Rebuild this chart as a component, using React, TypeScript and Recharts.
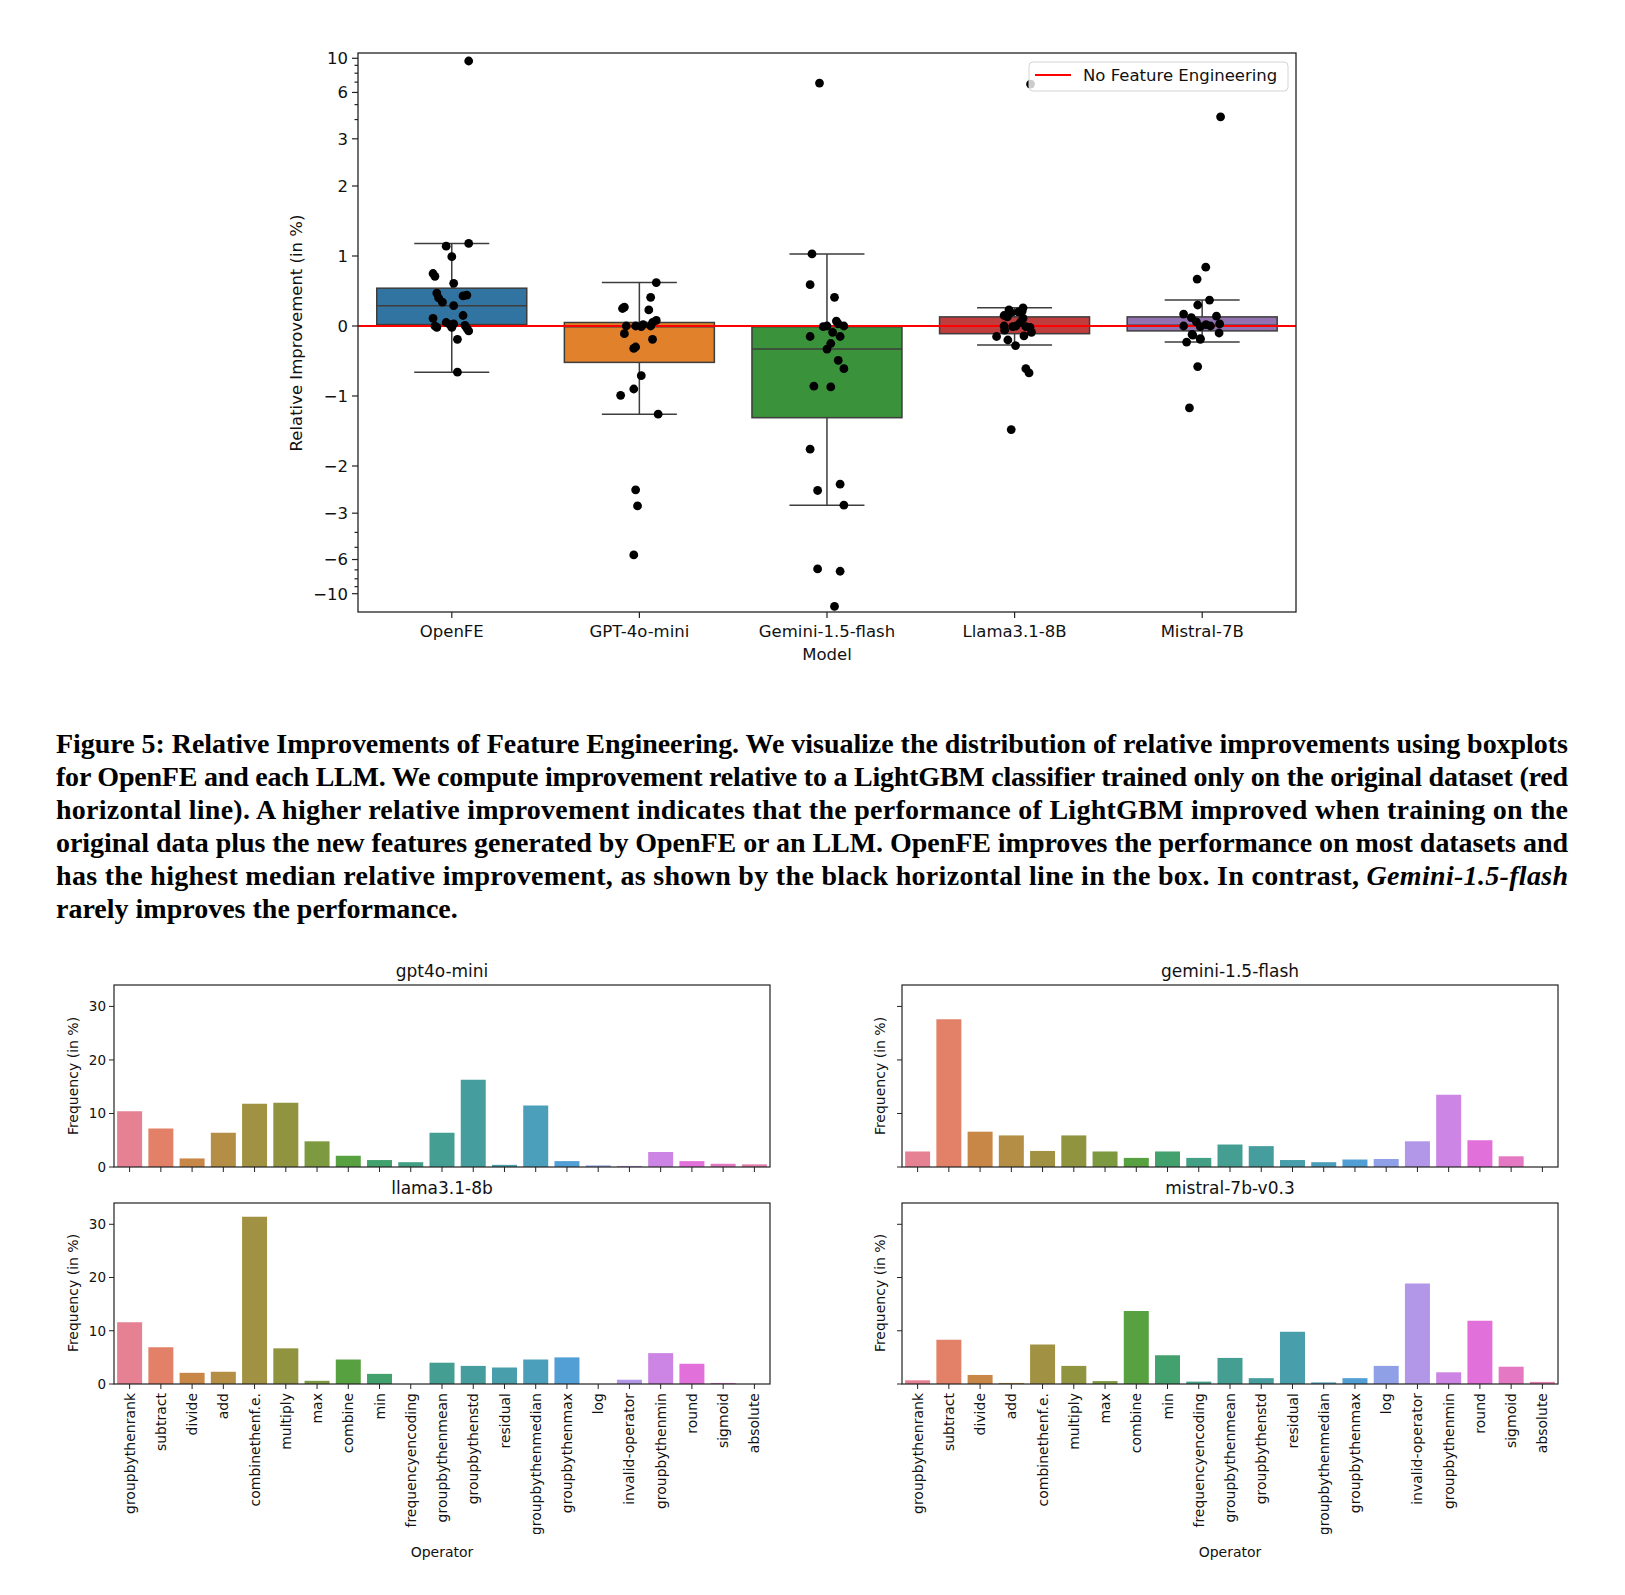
import React from 'react';
import { ComposedChart, BarChart, Bar, Line, Scatter, XAxis, YAxis, Cell } from 'recharts';

// ---------- top figure: relative improvement per model ----------
const models = ['OpenFE', 'GPT-4o-mini', 'Gemini-1.5-flash', 'Llama3.1-8B', 'Mistral-7B'];
const boxColors = ['#3274a1', '#e1812c', '#3a923a', '#c03d3e', '#9372b2'];

const q1 = [0.02, -0.52, -1.31, -0.11, -0.07];
const medians = [0.29, -0.01, -0.33, 0.0, 0.01];
const q3 = [0.54, 0.05, -0.01, 0.13, 0.13];
const whiskerLow = [-0.66, -1.26, -2.66, -0.27, -0.23];
const whiskerHigh = [1.18, 0.62, 1.03, 0.26, 0.37];

// strip points (value) and their horizontal jitter (in category units)
const openfePoints = [9.6, 1.14, 1.18, 0.99, 0.75, 0.71, 0.61, 0.47, 0.4, 0.34, 0.43, 0.44, 0.29, 0.15, 0.11, 0.0, -0.02, 0.05, 0.02, -0.02, 0.03, 0.01, -0.03, -0.07, -0.19, -0.66];
const openfeJitter = [0.09, -0.03, 0.09, 0.0, -0.1, -0.09, 0.01, -0.08, -0.07, -0.05, 0.06, 0.08, 0.01, 0.06, -0.1, -0.09, -0.08, -0.03, -0.01, 0.0, 0.01, 0.07, 0.08, 0.09, 0.03, 0.03];
const gptPoints = [0.62, 0.41, 0.25, 0.27, 0.23, 0.08, 0.05, 0.02, 0.0, 0.0, -0.01, 0.0, -0.11, -0.19, -0.32, -0.3, -0.71, -0.9, -0.99, -1.26, -2.34, -2.69, -5.6];
const gptJitter = [0.09, 0.06, -0.09, -0.08, 0.05, 0.09, 0.07, 0.02, -0.07, -0.02, 0.01, 0.06, -0.08, 0.07, -0.03, -0.02, 0.01, -0.03, -0.1, 0.1, -0.02, -0.01, -0.03];
const geminiPoints = [6.9, 1.03, 0.59, 0.41, 0.07, 0.0, -0.01, 0.0, 0.03, -0.15, -0.09, -0.15, -0.25, -0.33, -0.49, -0.61, -0.86, -0.87, -1.76, -2.26, -2.35, -2.66, -6.9, -7.15, -12.1];
const geminiJitter = [-0.04, -0.08, -0.09, 0.04, 0.05, 0.0, -0.02, 0.09, 0.06, -0.09, 0.03, 0.07, 0.02, 0.0, 0.06, 0.09, -0.07, 0.02, -0.09, 0.07, -0.05, 0.09, -0.05, 0.07, 0.04];
const llamaPoints = [6.8, 0.26, 0.23, 0.2, 0.15, 0.13, 0.11, 0.0, 0.0, -0.01, -0.02, -0.06, -0.09, -0.15, -0.14, -0.2, -0.28, -0.61, -0.67, -1.48, 0.19, 0.21, 0.05, -0.01];
const llamaJitter = [0.085, 0.045, -0.03, 0.02, -0.056, -0.039, 0.045, -0.056, 0.007, 0.06, 0.082, -0.053, 0.09, -0.096, 0.05, -0.036, 0.005, 0.06, 0.077, -0.018, -0.02, 0.04, 0.03, -0.01];
const mistralPoints = [4.17, 0.84, 0.67, 0.37, 0.3, 0.17, 0.12, 0.14, 0.06, 0.0, -0.01, 0.0, 0.03, -0.12, -0.1, -0.18, -0.23, -0.58, -1.17, -0.13, -0.19, 0.02];
const mistralJitter = [0.098, 0.019, -0.027, 0.039, -0.024, -0.099, -0.058, 0.076, -0.031, -0.099, -0.01, 0.044, 0.093, -0.054, 0.09, -0.01, -0.083, -0.024, -0.068, -0.05, -0.01, 0.02];

const majorTicks = [-10, -6, -3, -2, -1, 0, 1, 2, 3, 6, 10];
const minorTicks = [-9, -8, -7, -5, -4, 4, 5, 7, 8, 9];
const baseline = 0;

// ---------- bottom figure: operator frequencies ----------
const operators = ['groupbythenrank', 'subtract', 'divide', 'add', 'combinethenf.e.', 'multiply', 'max', 'combine', 'min', 'frequencyencoding', 'groupbythenmean', 'groupbythenstd', 'residual', 'groupbythenmedian', 'groupbythenmax', 'log', 'invalid-operator', 'groupbythenmin', 'round', 'sigmoid', 'absolute'];
const gpt4oMini = [10.4, 7.2, 1.6, 6.4, 11.8, 12.0, 4.8, 2.1, 1.3, 0.9, 6.4, 16.3, 0.4, 11.5, 1.1, 0.3, 0.2, 2.8, 1.1, 0.6, 0.5];
const gemini15Flash = [2.9, 27.6, 6.6, 5.9, 3.0, 5.9, 2.9, 1.7, 2.9, 1.7, 4.2, 3.9, 1.3, 0.9, 1.4, 1.5, 4.8, 13.5, 5.0, 2.0, 0];
const llama318b = [11.6, 6.9, 2.1, 2.3, 31.4, 6.7, 0.6, 4.6, 1.9, 0, 4.0, 3.4, 3.1, 4.6, 5.0, 0, 0.8, 5.8, 3.8, 0.2, 0];
const mistral7b = [0.7, 8.3, 1.7, 0.2, 7.4, 3.4, 0.55, 13.7, 5.4, 0.45, 4.9, 1.1, 9.8, 0.3, 1.1, 3.4, 18.9, 2.2, 11.9, 3.25, 0.4];
const freqTicks = [0, 10, 20, 30];

const captionLines = [
  'Figure 5: Relative Improvements of Feature Engineering. We visualize the distribution of relative improvements using boxplots',
  'for OpenFE and each LLM. We compute improvement relative to a LightGBM classifier trained only on the original dataset (red',
  'horizontal line). A higher relative improvement indicates that the performance of LightGBM improved when training on the',
  'original data plus the new features generated by OpenFE or an LLM. OpenFE improves the performance on most datasets and',
  'has the highest median relative improvement, as shown by the black horizontal line in the box. In contrast, ',
  'rarely improves the performance.',
];

// symlog-like transform of the y axis (linear up to 2.5, log beyond)
const LIN = 2.5;
const LOGK = 2.2;
const symlog = (v: number) => {
  const a = Math.abs(v);
  if (a <= LIN) return v;
  return Math.sign(v) * (LIN + LOGK * Math.log10(a / LIN));
};
const fmtTick = (v: number) => (v < 0 ? '\u2212' + Math.abs(v) : String(v));

// seaborn husl palette + desaturate(0.75)
const hm = [[3.2406, -1.5372, -0.4986], [-0.9689, 1.8758, 0.0415], [0.0557, -0.204, 1.057]];
function maxChroma(L: number, H: number) {
  const hrad = (H / 360) * 2 * Math.PI;
  const sinH = Math.sin(hrad), cosH = Math.cos(hrad);
  const sub1 = Math.pow(L + 16, 3) / 1560896;
  const sub2 = sub1 > 0.008856 ? sub1 : L / 903.3;
  let result = Infinity;
  for (const [m1, m2, m3] of hm) {
    const top = (0.99915 * m1 + 1.05122 * m2 + 1.1446 * m3) * sub2;
    const rb = 0.8633 * m3 - 0.17266 * m2;
    const lb = 0.12949 * m3 - 0.38848 * m1;
    const bottom = (rb * sinH + lb * cosH) * sub2;
    for (const t of [0, 1]) {
      const C = (L * (top - 1.05122 * t)) / (bottom + 0.17266 * sinH * t);
      if (C > 0 && C < result) result = C;
    }
  }
  return result;
}
function huslToRgb(H: number, S: number, L: number) {
  const C = (maxChroma(L, H) / 100) * S;
  const hr = (H / 360) * 2 * Math.PI;
  const U = Math.cos(hr) * C, V = Math.sin(hr) * C;
  const t = (L + 16) / 116;
  const varY = Math.pow(t, 3) > 0.008856 ? Math.pow(t, 3) : (116 * t - 16) / 903.3;
  const varU = U / (13 * L) + 0.19784;
  const varV = V / (13 * L) + 0.46834;
  const Y = varY;
  const X = -(9 * Y * varU) / ((varU - 4) * varV - varU * varV);
  const Z = (9 * Y - 15 * varV * Y - varV * X) / (3 * varV);
  return hm.map((r) => {
    const c = r[0] * X + r[1] * Y + r[2] * Z;
    const g = c <= 0.0031308 ? 12.92 * c : 1.055 * Math.pow(c, 1 / 2.4) - 0.055;
    return Math.min(1, Math.max(0, g));
  });
}
function desaturate([r, g, b]: number[], prop: number) {
  const mx = Math.max(r, g, b), mn = Math.min(r, g, b);
  const l = (mx + mn) / 2;
  if (mx === mn) return [r, g, b];
  let s = l <= 0.5 ? (mx - mn) / (mx + mn) : (mx - mn) / (2 - mx - mn);
  const rc = (mx - r) / (mx - mn), gc = (mx - g) / (mx - mn), bc = (mx - b) / (mx - mn);
  let h = r === mx ? bc - gc : g === mx ? 2 + rc - bc : 4 + gc - rc;
  h = (((h / 6) % 1) + 1) % 1;
  s *= prop;
  const m2 = l <= 0.5 ? l * (1 + s) : l + s - l * s;
  const m1 = 2 * l - m2;
  const v = (hue: number) => {
    hue = ((hue % 1) + 1) % 1;
    if (hue < 1 / 6) return m1 + (m2 - m1) * hue * 6;
    if (hue < 0.5) return m2;
    if (hue < 2 / 3) return m1 + (m2 - m1) * (2 / 3 - hue) * 6;
    return m1;
  };
  return [v(h + 1 / 3), v(h), v(h - 1 / 3)];
}
const toHex = (c: number[]) => '#' + c.map((x) => Math.round(x * 255).toString(16).padStart(2, '0')).join('');
const palette = operators.map((_, i) => {
  const h = ((i / operators.length + 0.01) % 1) * 359;
  return toHex(desaturate(huslToRgb(h, 0.9 * 99, 0.65 * 99), 0.75));
});

const boxData = models.map((m, i) => ({
  model: m,
  box: [symlog(q1[i]), symlog(q3[i])],
  whisker: [symlog(whiskerLow[i]), symlog(whiskerHigh[i])],
  median: symlog(medians[i]),
  color: boxColors[i],
}));
const pointSets = [openfePoints, gptPoints, geminiPoints, llamaPoints, mistralPoints];
const jitterSets = [openfeJitter, gptJitter, geminiJitter, llamaJitter, mistralJitter];
const stripData = pointSets.flatMap((vals, i) => vals.map((v, j) => ({ x: i + jitterSets[i][j], y: symlog(v) })));
const zeroLine = [{ x: -0.5, y: baseline }, { x: models.length - 0.5, y: baseline }];
const topYTicks = [...majorTicks, ...minorTicks].map(symlog);

const EDGE = '#3d3d3d';
const FONT = 'DejaVu Sans, sans-serif';

const BoxShape = (props: any) => {
  const { x, y, width, height, payload } = props;
  const top = Math.min(y, y + height);
  const h = Math.abs(height);
  const [lo, hi] = payload.box;
  const ym = hi === lo ? top : top + ((hi - payload.median) / (hi - lo)) * h;
  return (
    <g>
      <rect x={x} y={top} width={width} height={h} fill={payload.color} stroke={EDGE} strokeWidth={1.5} />
      <line x1={x} x2={x + width} y1={ym} y2={ym} stroke={EDGE} strokeWidth={1.5} />
    </g>
  );
};

const WhiskerShape = (props: any) => {
  const { x, y, width, height } = props;
  const top = Math.min(y, y + height);
  const bottom = Math.max(y, y + height);
  const cx = x + width / 2;
  const cap = width / 4;
  return (
    <g stroke={EDGE} strokeWidth={1.5}>
      <line x1={cx} x2={cx} y1={top} y2={bottom} />
      <line x1={cx - cap} x2={cx + cap} y1={top} y2={top} />
      <line x1={cx - cap} x2={cx + cap} y1={bottom} y2={bottom} />
    </g>
  );
};

const StripDot = (props: any) => <circle cx={props.cx} cy={props.cy} r={4.4} fill="#000" />;

const TopYTick = (props: any) => {
  const { x, y, payload } = props;
  const idx = majorTicks.findIndex((v) => Math.abs(symlog(v) - payload.value) < 1e-9);
  const major = idx >= 0;
  return (
    <g>
      <line x1={x} x2={x - (major ? 6 : 3.5)} y1={y} y2={y} stroke="#222" strokeWidth={1.2} />
      {major && (
        <text x={x - 10} y={y} dy="0.36em" textAnchor="end" fontSize={16.5} fontFamily={FONT} fill="#111">
          {fmtTick(majorTicks[idx])}
        </text>
      )}
    </g>
  );
};

const TopXTick = (props: any) => {
  const { x, y, payload } = props;
  return (
    <g>
      <line x1={x} x2={x} y1={y} y2={y + 6} stroke="#222" strokeWidth={1.2} />
      <text x={x} y={y + 24.5} textAnchor="middle" fontSize={16.5} fontFamily={FONT} fill="#111">
        {payload.value}
      </text>
    </g>
  );
};

const makeXTick = (labels: boolean) => (props: any) => {
  const { x, y, payload } = props;
  return (
    <g>
      <line x1={x} x2={x} y1={y} y2={y + 5} stroke="#222" strokeWidth={1} />
      {labels && (
        <text transform={`translate(${x},${y + 9}) rotate(-90)`} dy="0.36em" textAnchor="end" fontSize={14} fontFamily={FONT} fill="#111">
          {payload.value}
        </text>
      )}
    </g>
  );
};

const makeYTick = (labels: boolean) => (props: any) => {
  const { x, y, payload } = props;
  return (
    <g>
      <line x1={x} x2={x - 5} y1={y} y2={y} stroke="#222" strokeWidth={1} />
      {labels && (
        <text x={x - 8} y={y} dy="0.36em" textAnchor="end" fontSize={13.5} fontFamily={FONT} fill="#111">
          {payload.value}
        </text>
      )}
    </g>
  );
};

interface FreqProps {
  values: number[];
  plotLeft: number;
  plotTop: number;
  plotHeight: number;
  xLabels: boolean;
  yLabels: boolean;
}

const PLOT_W = 656;

const FreqChart: React.FC<FreqProps> = ({ values, plotLeft, plotTop, plotHeight, xLabels, yLabels }) => {
  const xh = xLabels ? 150 : 12;
  const data = operators.map((op, i) => ({ op, v: values[i] }));
  return (
    <div style={{ position: 'absolute', left: plotLeft - 50, top: plotTop - 5 }}>
      <BarChart width={50 + PLOT_W + 5} height={5 + plotHeight + xh} data={data} margin={{ top: 5, right: 5, left: 0, bottom: 0 }} barCategoryGap="10%">
        <XAxis dataKey="op" type="category" interval={0} height={xh} axisLine={false} tickLine={false} tickSize={0} tickMargin={0} tick={makeXTick(xLabels)} />
        <YAxis type="number" domain={[0, 34]} ticks={freqTicks} interval={0} width={50} axisLine={false} tickLine={false} tickSize={0} tickMargin={0} tick={makeYTick(yLabels)} allowDataOverflow />
        <Bar dataKey="v" isAnimationActive={false}>
          {data.map((d, i) => (
            <Cell key={d.op} fill={palette[i]} />
          ))}
        </Bar>
      </BarChart>
    </div>
  );
};

const App: React.FC = () => {
  const frames = [
    [114, 985, PLOT_W, 182],
    [902, 985, PLOT_W, 182],
    [114, 1203, PLOT_W, 181],
    [902, 1203, PLOT_W, 181],
  ];
  const captionBase = [753, 786, 819, 852, 885, 918];
  return (
    <div style={{ position: 'absolute', left: 0, top: 0, width: 1625, height: 1595, background: '#fff', overflow: 'hidden' }}>
      <div style={{ position: 'absolute', left: 250, top: 40 }}>
        <ComposedChart width={1070} height={640} data={boxData} margin={{ top: 13, right: 24, bottom: 38, left: 48 }} barCategoryGap="10%">
          <XAxis xAxisId="cat" dataKey="model" type="category" scale="band" interval={0} height={30} axisLine={false} tickLine={false} tickSize={0} tickMargin={0} tick={TopXTick} />
          <XAxis xAxisId="cat2" dataKey="model" type="category" scale="band" hide />
          <XAxis xAxisId="num" dataKey="x" type="number" domain={[-0.5, models.length - 0.5]} allowDataOverflow hide />
          <YAxis type="number" domain={[-4.086, 3.9]} allowDataOverflow ticks={topYTicks} interval={0} width={60} axisLine={false} tickLine={false} tickSize={0} tickMargin={0} tick={TopYTick} />
          <Bar xAxisId="cat2" dataKey="whisker" shape={WhiskerShape} isAnimationActive={false} />
          <Bar xAxisId="cat" dataKey="box" shape={BoxShape} isAnimationActive={false} />
          <Line xAxisId="num" data={zeroLine} dataKey="y" stroke="#ff0000" strokeWidth={2} dot={false} isAnimationActive={false} />
          <Scatter xAxisId="num" data={stripData} dataKey="y" shape={StripDot} isAnimationActive={false} />
        </ComposedChart>
      </div>

      <FreqChart values={gpt4oMini} plotLeft={114} plotTop={985} plotHeight={182} xLabels={false} yLabels />
      <FreqChart values={gemini15Flash} plotLeft={902} plotTop={985} plotHeight={182} xLabels={false} yLabels={false} />
      <FreqChart values={llama318b} plotLeft={114} plotTop={1203} plotHeight={181} xLabels yLabels />
      <FreqChart values={mistral7b} plotLeft={902} plotTop={1203} plotHeight={181} xLabels yLabels={false} />

      <svg width={1625} height={1595} style={{ position: 'absolute', left: 0, top: 0, pointerEvents: 'none' }}>
        <rect x={358} y={53} width={938} height={559} fill="none" stroke="#222" strokeWidth={1.3} />
        {frames.map(([x, y, w, h], i) => (
          <rect key={i} x={x} y={y} width={w} height={h} fill="none" stroke="#222" strokeWidth={1.2} />
        ))}

        <g fontFamily={FONT} fill="#111">
          <text transform="translate(296,333) rotate(-90)" textAnchor="middle" dy="0.36em" fontSize={16.5}>Relative Improvement (in %)</text>
          <text x={827} y={660} textAnchor="middle" fontSize={16.5}>Model</text>

          <rect x={1029} y={62} width={259} height={29} rx={4} fill="#fff" fillOpacity={0.8} stroke="#d4d4d4" strokeWidth={1} />
          <line x1={1035} x2={1071} y1={75} y2={75} stroke="#ff0000" strokeWidth={2} />
          <text x={1083} y={81} fontSize={16.5}>No Feature Engineering</text>

          <text x={442} y={977} textAnchor="middle" fontSize={17}>gpt4o-mini</text>
          <text x={1230} y={977} textAnchor="middle" fontSize={17}>gemini-1.5-flash</text>
          <text x={442} y={1194} textAnchor="middle" fontSize={17}>llama3.1-8b</text>
          <text x={1230} y={1194} textAnchor="middle" fontSize={17}>mistral-7b-v0.3</text>

          {[[73, 1076], [880, 1076], [73, 1293], [880, 1293]].map(([x, y], i) => (
            <text key={i} transform={`translate(${x},${y}) rotate(-90)`} textAnchor="middle" dy="0.36em" fontSize={14}>Frequency (in %)</text>
          ))}
          <text x={442} y={1557} textAnchor="middle" fontSize={14}>Operator</text>
          <text x={1230} y={1557} textAnchor="middle" fontSize={14}>Operator</text>
        </g>

        <g fontFamily="Liberation Serif, serif" fontWeight="bold" fontSize={28} fill="#000">
          {captionLines.map((line, i) =>
            i === 5 ? (
              <text key={i} x={56} y={captionBase[i]}>{line}</text>
            ) : (
              <text key={i} x={56} y={captionBase[i]} textLength={1512} lengthAdjust="spacing">
                {line}
                {i === 4 && <tspan fontStyle="italic">Gemini-1.5-flash</tspan>}
              </text>
            )
          )}
        </g>
      </svg>
    </div>
  );
};

export default App;
